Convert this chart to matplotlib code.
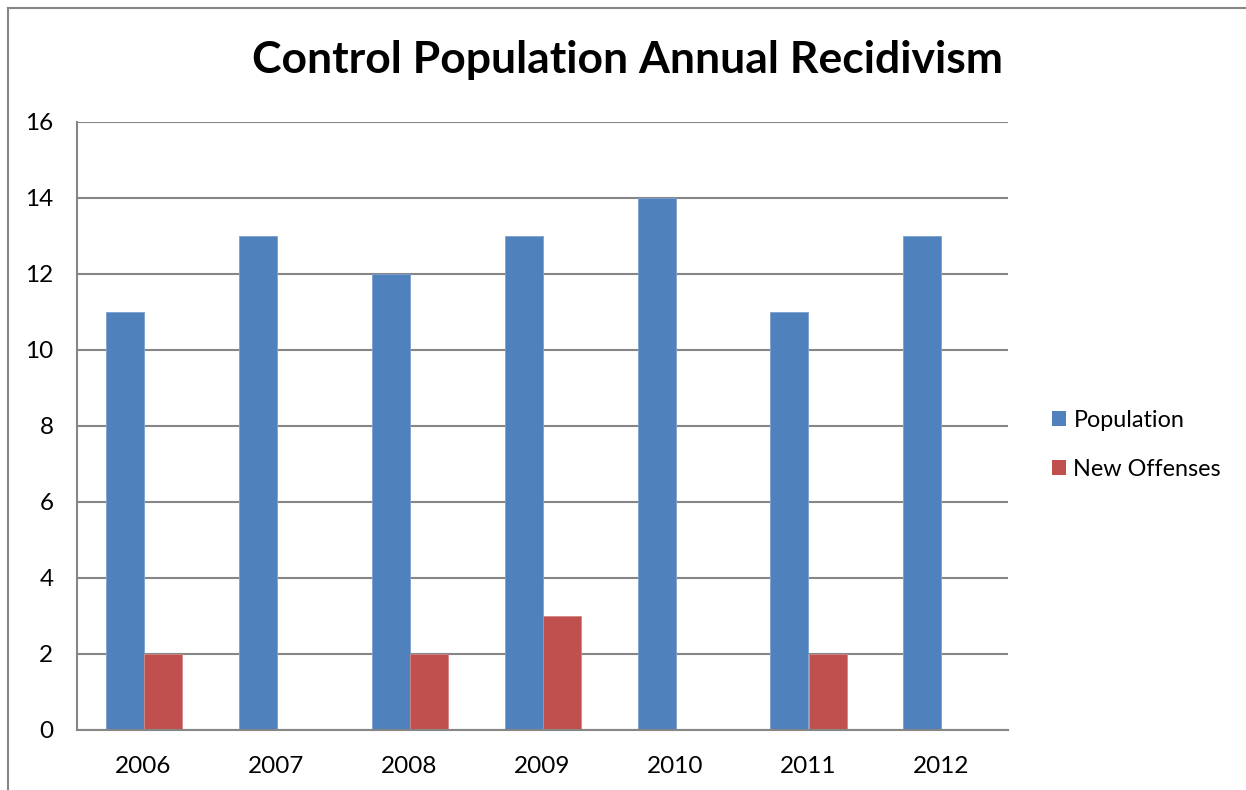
import matplotlib
matplotlib.use("Agg")
import matplotlib.pyplot as plt
from matplotlib.patches import Patch
from matplotlib.lines import Line2D
import numpy as np

years = ["2006", "2007", "2008", "2009", "2010", "2011", "2012"]
population = [11, 13, 12, 13, 14, 11, 13]
new_offenses = [2, 0, 2, 3, 0, 2, 0]
y_ticks = [0, 2, 4, 6, 8, 10, 12, 14, 16]

BLUE = "#4F81BD"
RED = "#C0504D"
GRID = "#868686"
FONT = ["Lato", "DejaVu Sans"]

plt.rcParams["font.family"] = FONT

fig = plt.figure(figsize=(12.46, 7.90), dpi=100)
ax = fig.add_axes([77 / 1246, 60 / 790, 931 / 1246, 608 / 790])

x = np.arange(len(years))
w = 2 / 7
ax.bar(x - w / 2, population, width=w, color=BLUE, edgecolor="#7EA1CF", linewidth=0.6,
       label="Population", zorder=3)
ax.bar(x + w / 2, new_offenses, width=w, color=RED, edgecolor="#D48683", linewidth=0.6,
       label="New Offenses", zorder=3)

ax.set_xlim(-0.5, len(years) - 0.5)
ax.set_ylim(0, 16)
ax.set_yticks(y_ticks)
ax.set_yticklabels([str(v) for v in y_ticks])
ax.set_xticks(x)
ax.set_xticklabels(years)
ax.tick_params(axis="both", length=0, labelsize=17.5, colors="black")
ax.tick_params(axis="y", pad=17)
ax.tick_params(axis="x", pad=19)
ax.yaxis.grid(True, color=GRID, linewidth=1.5, zorder=0)
for side in ["top", "right"]:
    ax.spines[side].set_visible(False)
for side in ["left", "bottom"]:
    ax.spines[side].set_color(GRID)
    ax.spines[side].set_linewidth(1.5)
    ax.spines[side].set_zorder(4)

fig.text(628 / 1246, 1 - 60 / 790, "Control Population Annual Recidivism",
         ha="center", va="center", fontsize=32, fontweight="bold")

# outer chart frame (top and left edges)
fig.add_artist(Line2D([8 / 1246, 1.0], [1 - 8 / 790, 1 - 8 / 790], color=GRID, linewidth=1.5))
fig.add_artist(Line2D([8 / 1246, 8 / 1246], [0, 1 - 8 / 790], color=GRID, linewidth=1.5))

handles = [Patch(facecolor=BLUE), Patch(facecolor=RED)]
fig.legend(handles, ["Population", "New Offenses"], loc="center left",
           bbox_to_anchor=(1031 / 1246, 1 - 445 / 790), frameon=False, fontsize=16.8,
           handlelength=0.62, handleheight=0.62, handletextpad=0.3, labelspacing=1.2)

fig.savefig("out.png", dpi=100)
